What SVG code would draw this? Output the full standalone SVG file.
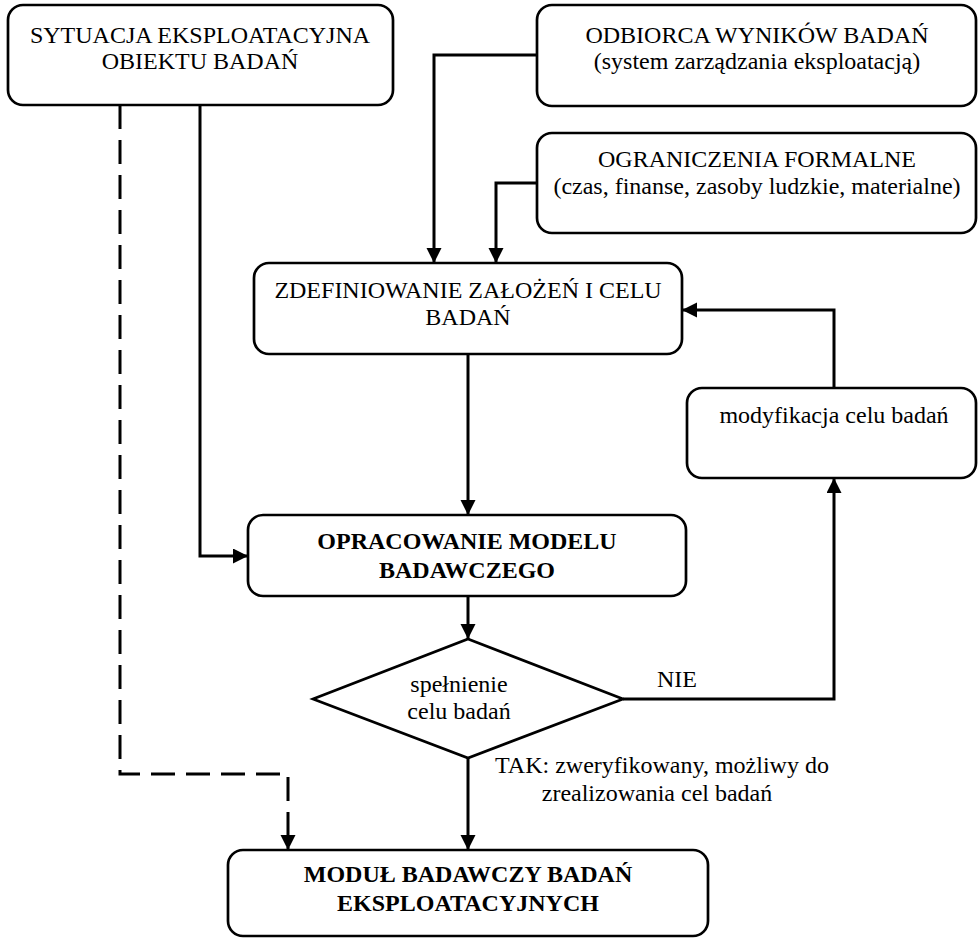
<svg xmlns="http://www.w3.org/2000/svg" width="979" height="939" viewBox="0 0 979 939">
  <style>
    .box { fill: #ffffff; stroke: #000000; stroke-width: 2.7; }
    .con { fill: none; stroke: #000000; stroke-width: 3; }
    .dash { stroke-dasharray: 24 11; }
    text { font-family: 'Liberation Serif', 'DejaVu Serif', serif; font-size: 24px; fill: #000000; text-anchor: middle; }
    .b { font-weight: bold; }
  </style>
  <defs>
    <marker id="arrow" markerUnits="userSpaceOnUse" markerWidth="16" markerHeight="16" refX="15" refY="7.5" orient="auto">
      <path d="M0,0 L15,7.5 L0,15 Z" fill="#000000"/>
    </marker>
  </defs>
  <rect width="979" height="939" fill="#ffffff"/>

  <g id="connectors">
    <!-- situation -> research model (solid) -->
    <path class="con" d="M200,105 V556 H248" marker-end="url(#arrow)"/>
    <!-- situation -> research module (dashed) -->
    <path class="con dash" d="M120,105 V774 H288 V850" marker-end="url(#arrow)"/>
    <!-- recipient -> assumptions -->
    <path class="con" d="M537,55 H434 V263" marker-end="url(#arrow)"/>
    <!-- constraints -> assumptions -->
    <path class="con" d="M537,183 H496 V263" marker-end="url(#arrow)"/>
    <!-- assumptions -> research model -->
    <path class="con" d="M468,354 V515" marker-end="url(#arrow)"/>
    <!-- modification -> assumptions -->
    <path class="con" d="M834,388 V310 H682" marker-end="url(#arrow)"/>
    <!-- research model -> decision -->
    <path class="con" d="M468,596 V639" marker-end="url(#arrow)"/>
    <!-- decision NIE -> modification -->
    <path class="con" d="M623,699 H834 V478" marker-end="url(#arrow)"/>
    <!-- decision TAK -> module -->
    <path class="con" d="M468,758 V850" marker-end="url(#arrow)"/>
    <text x="677" y="687">NIE</text>
    <text x="662" y="773">TAK: zweryfikowany, możliwy do</text>
    <text x="657" y="801">zrealizowania cel badań</text>
  </g>

  <g id="sytuacja">
    <rect class="box" x="8" y="5" width="385" height="100" rx="15"/>
    <text x="200" y="43">SYTUACJA EKSPLOATACYJNA</text>
    <text x="200" y="69">OBIEKTU BADAŃ</text>
  </g>

  <g id="odbiorca">
    <rect class="box" x="537" y="5" width="439" height="101" rx="15"/>
    <text x="757" y="43">ODBIORCA WYNIKÓW BADAŃ</text>
    <text x="757" y="69">(system zarządzania eksploatacją)</text>
  </g>

  <g id="ograniczenia">
    <rect class="box" x="537" y="133" width="439" height="100" rx="15"/>
    <text x="757" y="167">OGRANICZENIA FORMALNE</text>
    <text x="757" y="194">(czas, finanse, zasoby ludzkie, materialne)</text>
  </g>

  <g id="zdefiniowanie">
    <rect class="box" x="254" y="263" width="428" height="91" rx="15"/>
    <text x="468" y="298">ZDEFINIOWANIE ZAŁOŻEŃ I CELU</text>
    <text x="468" y="325">BADAŃ</text>
  </g>

  <g id="modyfikacja">
    <rect class="box" x="687" y="388" width="289" height="90" rx="15"/>
    <text x="834" y="423">modyfikacja celu badań</text>
  </g>

  <g id="opracowanie">
    <rect class="box" x="248" y="515" width="438" height="81" rx="15"/>
    <text class="b" x="467" y="549">OPRACOWANIE MODELU</text>
    <text class="b" x="467" y="578">BADAWCZEGO</text>
  </g>

  <g id="decyzja">
    <polygon class="box" points="468,639 623,699 468,758 313,699"/>
    <text x="459" y="692">spełnienie</text>
    <text x="459" y="719">celu badań</text>
  </g>

  <g id="modul">
    <rect class="box" x="228" y="850" width="480" height="86" rx="15"/>
    <text class="b" x="468" y="882">MODUŁ BADAWCZY BADAŃ</text>
    <text class="b" x="468" y="911">EKSPLOATACYJNYCH</text>
  </g>
</svg>
